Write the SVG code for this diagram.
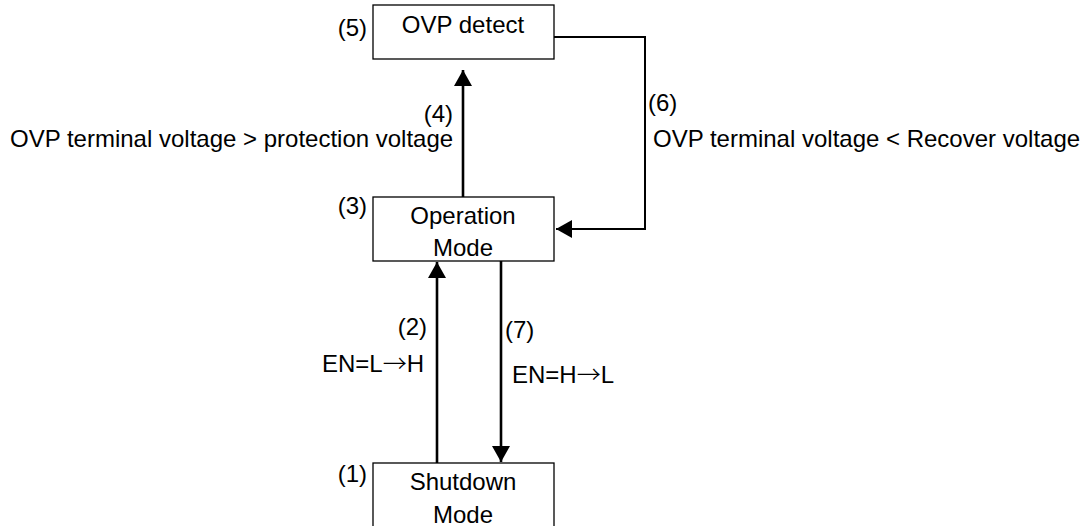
<svg xmlns="http://www.w3.org/2000/svg" width="1091" height="526" viewBox="0 0 1091 526">
<style>
text{font-family:"Liberation Sans",Arial,sans-serif;font-size:24px;fill:#000}
.ar{font-family:"Noto Sans CJK JP","Liberation Sans",sans-serif;font-weight:300}
.box{fill:#fff;stroke:#000;stroke-width:1.3}
.c{fill:none;stroke:#000;stroke-width:2.6}
.m{text-anchor:middle}
.e{text-anchor:end}
</style>
<defs>
<marker id="ah" markerUnits="userSpaceOnUse" markerWidth="17" markerHeight="18" refX="16" refY="9" orient="auto">
<path d="M0,0 L16,9 L0,18 z" fill="#000"/>
</marker>
</defs>
<rect width="1091" height="526" fill="#fff"/>
<g id="connectors">
<path class="c" d="M463,197 V70" marker-end="url(#ah)"/>
<path class="c" d="M554,37 H645 V229 H556" marker-end="url(#ah)" style="stroke-width:2"/>
<path class="c" d="M437,463 V262" marker-end="url(#ah)"/>
<path class="c" d="M501,261 V462" marker-end="url(#ah)"/>
<text x="453" y="122" class="e">(4)</text>
<text x="10" y="147">OVP terminal voltage &gt; protection voltage</text>
<text x="648" y="111">(6)</text>
<text x="653" y="147">OVP terminal voltage &lt; Recover voltage</text>
<text x="427" y="335" class="e">(2)</text>
<text x="424" y="372" class="e">EN=L<tspan class="ar">→</tspan>H</text>
<text x="505" y="338">(7)</text>
<text x="512" y="383">EN=H<tspan class="ar">→</tspan>L</text>
</g>
<g id="ovp">
<rect class="box" x="373" y="5" width="181" height="54"/>
<text x="463" y="33" class="m">OVP detect</text>
<text x="367" y="36" class="e">(5)</text>
</g>
<g id="operation">
<rect class="box" x="373" y="197" width="181" height="64"/>
<text x="463" y="224" class="m">Operation</text>
<text x="463" y="256" class="m">Mode</text>
<text x="367" y="214" class="e">(3)</text>
</g>
<g id="shutdown">
<rect class="box" x="373" y="463" width="181" height="70"/>
<text x="463" y="490" class="m">Shutdown</text>
<text x="463" y="523" class="m">Mode</text>
<text x="367" y="482" class="e">(1)</text>
</g>
</svg>
